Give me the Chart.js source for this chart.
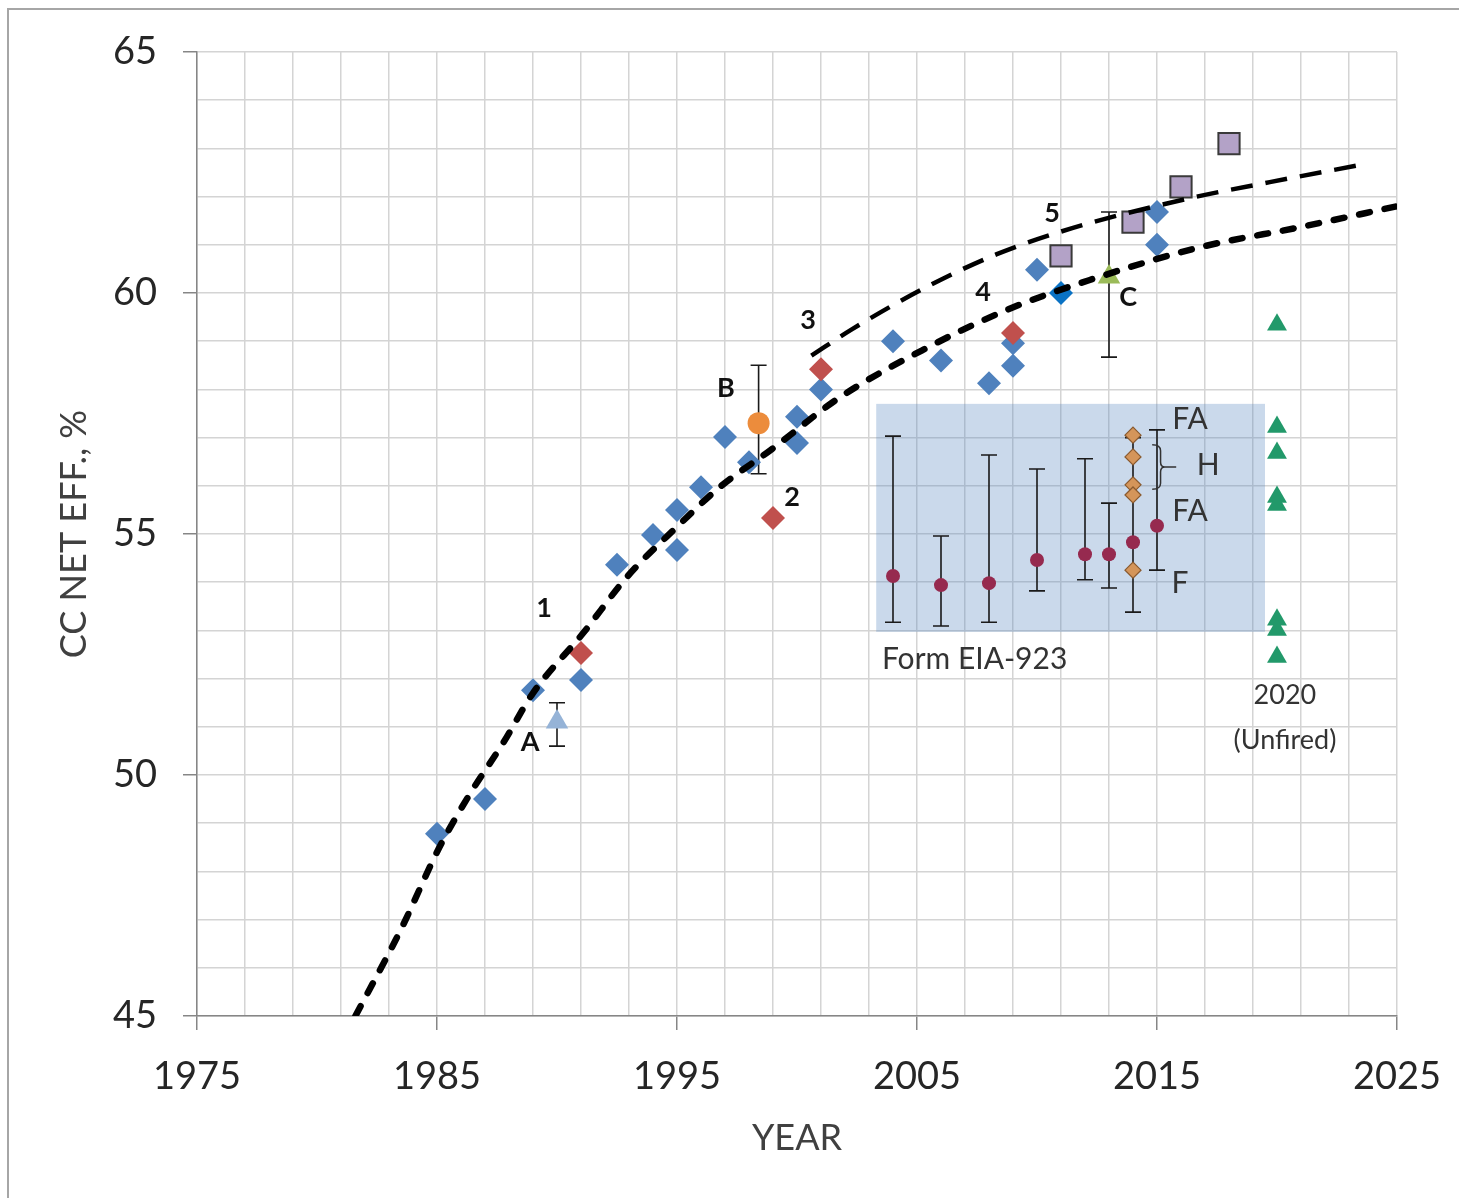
<!DOCTYPE html>
<html>
<head>
<meta charset="utf-8">
<title>CC net efficiency vs year</title>
<script src="https://cdn.jsdelivr.net/npm/chart.js@4.4.1/dist/chart.umd.min.js"></script>
<style>
  body { margin: 0; background: #fff; overflow: hidden; }
  #wrap { position: relative; width: 1459px; height: 1198px; }
  #frame {
    position: absolute; left: 7px; top: 8px; width: 1452px; height: 1190px;
    border-top: 2px solid #a6a6a6; border-left: 2px solid #a6a6a6;
    pointer-events: none;
  }
</style>
</head>
<body>
<div id="wrap">
  <canvas id="effChart" width="1459" height="1198"></canvas>
  <div id="frame"></div>
</div>
<script>
// Axis tick labels
const yearLabels = [1975, 1985, 1995, 2005, 2015, 2025];
const effLabels = [45, 50, 55, 60, 65];

// Blue diamonds (plant ratings)
const blueYears = [1985, 1987, 1989, 1991, 1992.5, 1994, 1995, 1995, 1996, 1997, 1998, 2000, 2000, 2001, 2004, 2006, 2008, 2009, 2009, 2010, 2015, 2015];
const blueEff = [48.78, 49.5, 51.76, 51.97, 54.36, 54.98, 55.5, 54.67, 55.97, 57.01, 56.49, 57.43, 56.89, 58.0, 59.0, 58.6, 58.13, 58.49, 58.96, 60.48, 61.68, 61.0];

// Red diamonds
const redYears = [1991, 1999, 2001, 2009];
const redEff = [52.53, 55.33, 58.42, 59.17];

// Single bright blue diamond
const brightYears = [2011];
const brightEff = [60.0];

// Purple squares
const purpleYears = [2011, 2014, 2016, 2018];
const purpleEff = [60.77, 61.47, 62.2, 63.1];

// 2020 unfired (green triangles)
const unfiredYears = [2020, 2020, 2020, 2020, 2020, 2020, 2020, 2020];
const unfiredEff = [59.34, 57.22, 56.68, 55.77, 55.6, 53.22, 53.01, 52.45];

// Small orange diamonds at 2014
const fhYears = [2014, 2014, 2014, 2014, 2014];
const fhEff = [57.05, 56.6, 56.02, 55.81, 54.25];

// Point A, B, C with ranges
const aYear = [1990], aEff = [51.1], aLow = [50.6], aHigh = [51.5];
const bYear = [1998.4], bEff = [57.3], bLow = [56.25], bHigh = [58.5];
const cYear = [2013], cEff = [60.33], cLow = [58.67], cHigh = [61.68];

// Form EIA-923 averages with ranges
const eiaYears = [2004, 2006, 2008, 2010, 2012, 2013, 2014, 2015];
const eiaEff = [54.13, 53.94, 53.98, 54.46, 54.58, 54.58, 54.83, 55.17];
const eiaLow = [53.17, 53.09, 53.17, 53.82, 54.05, 53.88, 53.38, 54.25];
const eiaHigh = [57.03, 54.96, 56.64, 56.35, 56.56, 55.64, 57.0, 57.16];

// Trend curves
const lowerYears = [1981.6, 1983.5, 1985.1, 1986.4, 1987.75, 1989, 1991.1, 1992.9, 1995, 1996.8, 1998.9, 2001.8, 2005.25, 2008.75, 2012.2, 2016.8, 2021, 2025];
const lowerEff = [45.0, 46.8, 48.5, 49.63, 50.66, 51.7, 52.95, 54.1, 55.15, 55.98, 56.74, 57.84, 58.82, 59.65, 60.27, 60.95, 61.37, 61.8];
const upperYears = [2000.6, 2002.3, 2005.3, 2008.3, 2011.5, 2016.4, 2019.7, 2023.5];
const upperEff = [58.7, 59.25, 60.1, 60.8, 61.35, 61.97, 62.3, 62.66];

// Shaded EIA-923 band
const boxYears = [2003.3, 2019.5];
const boxEff = [52.97, 57.7];

function pts(xs, ys) {
    return xs.map((v, i) => ({ x: v, y: ys[i] }));
}

const errorSets = [
    { xs: aYear, lo: aLow, hi: aHigh },
    { xs: bYear, lo: bLow, hi: bHigh },
    { xs: cYear, lo: cLow, hi: cHigh },
    { xs: eiaYears, lo: eiaLow, hi: eiaHigh }
];

// Text notes placed at data coordinates
const notes = [
    { t: '1', x: 1989.46, y: 53.46, bold: true },
    { t: '2', x: 1999.79, y: 55.77, bold: true },
    { t: '3', x: 2000.46, y: 59.44, bold: true },
    { t: '4', x: 2007.75, y: 60.02, bold: true },
    { t: '5', x: 2010.63, y: 61.66, bold: true },
    { t: 'A', x: 1988.88, y: 50.68, bold: true },
    { t: 'B', x: 1997.04, y: 58.03, bold: true },
    { t: 'C', x: 2013.8, y: 59.92, bold: true },
    { t: 'FA', x: 2016.38, y: 57.37 },
    { t: 'H', x: 2017.13, y: 56.43 },
    { t: 'FA', x: 2016.38, y: 55.46 },
    { t: 'F', x: 2015.96, y: 53.98 },
    { t: '2020', x: 2020.33, y: 51.66, small: true },
    { t: '(Unfired)', x: 2020.33, y: 50.73, small: true },
    { t: 'Form EIA-923', x: 2003.54, y: 52.39, left: true }
];

const overlay = {
    id: 'overlay',
    beforeDatasetsDraw(chart) {
        const { ctx, scales: { x, y } } = chart;
        ctx.save();
        // shaded band
        const bx0 = x.getPixelForValue(boxYears[0]);
        const bx1 = x.getPixelForValue(boxYears[1]);
        const by0 = y.getPixelForValue(boxEff[1]);
        const by1 = y.getPixelForValue(boxEff[0]);
        ctx.fillStyle = 'rgba(79, 129, 189, 0.3)';
        ctx.fillRect(bx0, by0, bx1 - bx0, by1 - by0);

        // error bars
        ctx.strokeStyle = '#1a1a1a';
        ctx.lineWidth = 1.6;
        errorSets.forEach(set => {
            set.xs.forEach((xv, i) => {
                const px = x.getPixelForValue(xv);
                const top = y.getPixelForValue(set.hi[i]);
                const bot = y.getPixelForValue(set.lo[i]);
                ctx.beginPath();
                ctx.moveTo(px, top); ctx.lineTo(px, bot);
                ctx.moveTo(px - 8, top); ctx.lineTo(px + 8, top);
                ctx.moveTo(px - 8, bot); ctx.lineTo(px + 8, bot);
                ctx.stroke();
            });
        });
        ctx.restore();
    },
    afterDatasetsDraw(chart) {
        const { ctx, scales: { x, y } } = chart;
        ctx.save();
        // brace next to the H group
        const l = x.getPixelForValue(2014.8);
        const r = x.getPixelForValue(2015.33);
        const t = x.getPixelForValue(2015.8);
        const top = y.getPixelForValue(56.85);
        const mid = y.getPixelForValue(56.39);
        const bot = y.getPixelForValue(55.93);
        const c = (l + r) / 2;
        ctx.strokeStyle = '#333';
        ctx.lineWidth = 1.5;
        ctx.beginPath();
        ctx.moveTo(l, top);
        ctx.quadraticCurveTo(c + 2, top, c + 2, top + 6);
        ctx.lineTo(c + 2, mid - 5);
        ctx.quadraticCurveTo(c + 2, mid, r, mid);
        ctx.quadraticCurveTo(c + 2, mid, c + 2, mid + 5);
        ctx.lineTo(c + 2, bot - 6);
        ctx.quadraticCurveTo(c + 2, bot, l, bot);
        ctx.moveTo(r, mid);
        ctx.lineTo(t, mid);
        ctx.stroke();

        // text notes
        ctx.textBaseline = 'middle';
        notes.forEach(n => {
            if (n.bold) {
                ctx.font = 'bold 27px Lato';
                ctx.fillStyle = '#111';
            } else if (n.small) {
                ctx.font = '27px Lato';
                ctx.fillStyle = '#333';
            } else {
                ctx.font = '30px Lato';
                ctx.fillStyle = '#333';
            }
            ctx.textAlign = n.left ? 'left' : 'center';
            ctx.fillText(n.t, x.getPixelForValue(n.x), y.getPixelForValue(n.y));
        });
        ctx.restore();
    }
};

const ctx = document.getElementById('effChart').getContext('2d');

new Chart(ctx, {
    type: 'scatter',
    data: {
        datasets: [
            {
                label: 'Trend (lower)',
                data: pts(lowerYears, lowerEff),
                showLine: true,
                pointRadius: 0,
                borderColor: '#000',
                borderWidth: 6.5,
                borderDash: [11, 15],
                borderCapStyle: 'round',
                cubicInterpolationMode: 'monotone',
                fill: false
            },
            {
                label: 'Trend (upper)',
                data: pts(upperYears, upperEff),
                showLine: true,
                pointRadius: 0,
                borderColor: '#000',
                borderWidth: 4.5,
                borderDash: [22, 13],
                cubicInterpolationMode: 'monotone',
                fill: false
            },
            {
                label: 'F / FA / H',
                data: pts(fhYears, fhEff),
                pointStyle: 'rectRot',
                pointRadius: 8,
                backgroundColor: '#d4955a',
                borderColor: '#8a5a2e',
                borderWidth: 1.2
            },
            {
                label: 'EIA-923',
                data: pts(eiaYears, eiaEff),
                pointStyle: 'circle',
                pointRadius: 7,
                backgroundColor: '#962a4f',
                borderWidth: 0
            },
            {
                label: 'A',
                data: pts(aYear, aEff),
                pointStyle: 'triangle',
                pointRadius: 13,
                backgroundColor: '#95b3d7',
                borderWidth: 0
            },
            {
                label: 'B',
                data: pts(bYear, bEff),
                pointStyle: 'circle',
                pointRadius: 11,
                backgroundColor: '#ec8c3c',
                borderWidth: 0
            },
            {
                label: 'C',
                data: pts(cYear, cEff),
                pointStyle: 'triangle',
                pointRadius: 13,
                backgroundColor: '#9bbb59',
                borderWidth: 0
            },
            {
                label: 'Unfired 2020',
                data: pts(unfiredYears, unfiredEff),
                pointStyle: 'triangle',
                pointRadius: 11.5,
                backgroundColor: '#22996a',
                borderWidth: 0
            },
            {
                label: 'Purple',
                data: pts(purpleYears, purpleEff),
                pointStyle: 'rect',
                pointRadius: 15,
                backgroundColor: '#b3a2c7',
                borderColor: '#3a3a3a',
                borderWidth: 2
            },
            {
                label: 'Bright',
                data: pts(brightYears, brightEff),
                pointStyle: 'rectRot',
                pointRadius: 12,
                backgroundColor: '#0a72c4',
                borderWidth: 0
            },
            {
                label: 'Red',
                data: pts(redYears, redEff),
                pointStyle: 'rectRot',
                pointRadius: 12,
                backgroundColor: '#c0504d',
                borderWidth: 0
            },
            {
                label: 'Blue',
                data: pts(blueYears, blueEff),
                pointStyle: 'rectRot',
                pointRadius: 12,
                backgroundColor: '#4f81bd',
                borderWidth: 0
            }
        ]
    },
    options: {
        responsive: false,
        animation: false,
        layout: { padding: { top: 52, right: 62, left: 0, bottom: 0 } },
        plugins: {
            legend: { display: false },
            tooltip: { enabled: false }
        },
        scales: {
            x: {
                type: 'linear',
                min: yearLabels[0],
                max: yearLabels[yearLabels.length - 1],
                afterBuildTicks(scale) {
                    const ticks = [];
                    for (let v = yearLabels[0]; v <= yearLabels[yearLabels.length - 1]; v += 2) ticks.push({ value: v });
                    scale.ticks = ticks;
                },
                afterFit(scale) {
                    scale.height = 182;
                    scale.paddingLeft = 0;
                    scale.paddingRight = 0;
                },
                ticks: {
                    autoSkip: false,
                    maxRotation: 0,
                    padding: 24,
                    color: '#262626',
                    font: { family: 'Lato', size: 38 },
                    callback: v => yearLabels.includes(v) ? String(v) : ''
                },
                grid: {
                    color: '#d4d4d4',
                    lineWidth: 1.5,
                    tickLength: 14,
                    tickColor: c => (c.tick && yearLabels.includes(c.tick.value)) ? '#868686' : 'rgba(0,0,0,0)',
                    tickWidth: 1.5
                },
                border: { color: '#868686', width: 1.5 },
                title: {
                    display: true,
                    text: 'YEAR',
                    color: '#404040',
                    font: { family: 'Lato', size: 36 },
                    padding: { top: 0, bottom: 38 }
                }
            },
            y: {
                min: effLabels[0],
                max: effLabels[effLabels.length - 1],
                afterFit(scale) {
                    scale.width = 197;
                    scale.paddingTop = 0;
                    scale.paddingBottom = 0;
                },
                ticks: {
                    stepSize: 1,
                    autoSkip: false,
                    padding: 26,
                    color: '#262626',
                    font: { family: 'Lato', size: 38 },
                    callback: v => effLabels.includes(v) ? String(v) : ''
                },
                grid: {
                    color: '#d4d4d4',
                    lineWidth: 1.5,
                    tickLength: 14,
                    tickColor: c => (c.tick && effLabels.includes(c.tick.value)) ? '#868686' : 'rgba(0,0,0,0)',
                    tickWidth: 1.5
                },
                border: { color: '#868686', width: 1.5 },
                title: {
                    display: true,
                    text: 'CC NET EFF., %',
                    color: '#404040',
                    font: { family: 'Lato', size: 36 },
                    padding: { top: 53, bottom: 0 }
                }
            }
        }
    },
    plugins: [overlay]
});
</script>
</body>
</html>
